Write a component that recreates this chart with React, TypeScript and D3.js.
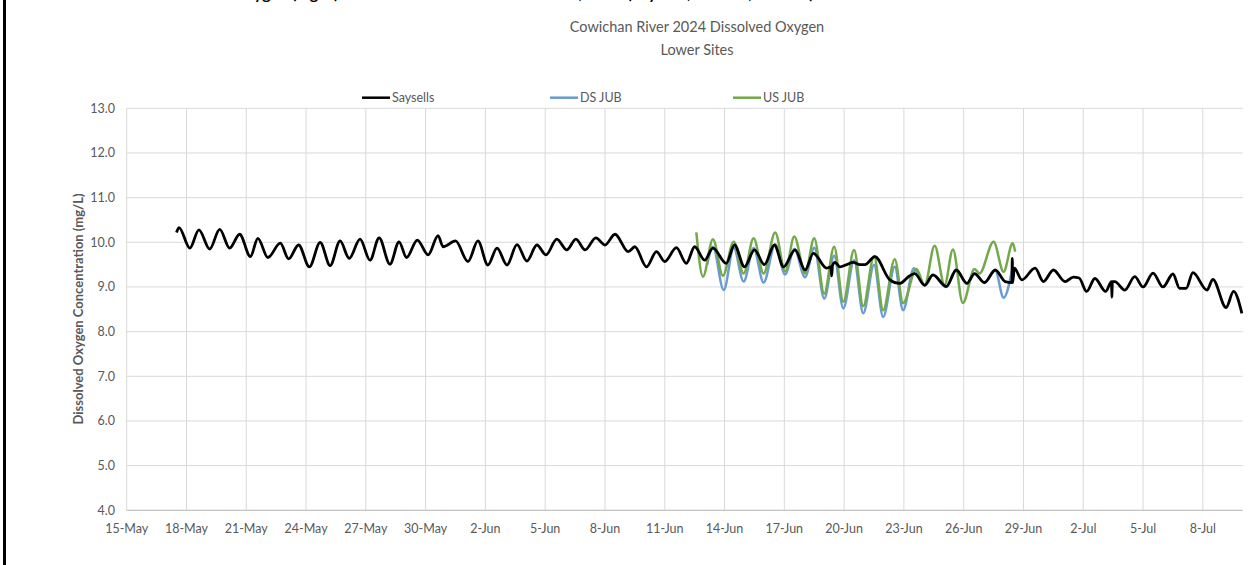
import React from "react";
import * as d3 from "d3";

// ---------- data ----------
const chartTitle = ["Cowichan River 2024 Dissolved Oxygen", "Lower Sites"];
const yAxisTitle = "Dissolved Oxygen Concentration (mg/L)";
const seriesNames = ["Saysells", "DS JUB", "US JUB"];
const seriesColors = ["#000000", "#6a9bd3", "#72a94a"];

const xTickLabels = [
  "15-May", "18-May", "21-May", "24-May", "27-May", "30-May", "2-Jun", "5-Jun",
  "8-Jun", "11-Jun", "14-Jun", "17-Jun", "20-Jun", "23-Jun", "26-Jun", "29-Jun",
  "2-Jul", "5-Jul", "8-Jul",
];
const xDomain = ["05-15 00:00", "07-10 00:00"];
const yTickValues = [4, 5, 6, 7, 8, 9, 10, 11, 12, 13];

const saysellsTimes = [
  "05-17 12:00", "05-17 15:00", "05-18 04:00", "05-18 15:00", "05-19 04:00", "05-19 16:00",
  "05-20 04:00", "05-20 16:00", "05-21 05:00", "05-21 14:00", "05-22 02:00", "05-22 17:00",
  "05-23 03:00", "05-23 15:00", "05-24 04:00", "05-24 17:00", "05-25 05:00", "05-25 17:00",
  "05-26 04:00", "05-26 17:00", "05-27 05:00", "05-27 16:00", "05-28 05:00", "05-28 16:00",
  "05-29 01:00", "05-29 14:00", "05-30 03:00", "05-30 15:00", "05-30 21:00", "05-31 12:00",
  "06-01 03:00", "06-01 15:00", "06-02 03:00", "06-02 14:00", "06-03 02:00", "06-03 14:00",
  "06-04 02:00", "06-04 14:00", "06-05 01:00", "06-05 14:00", "06-06 02:00", "06-06 13:00",
  "06-07 00:00", "06-07 13:00", "06-08 00:00", "06-08 12:00", "06-09 04:00", "06-09 12:00",
  "06-10 02:00", "06-10 14:00", "06-11 00:00", "06-11 14:00", "06-12 02:00", "06-12 12:00",
  "06-13 00:00", "06-13 10:00", "06-14 02:00", "06-14 12:00", "06-15 00:00", "06-15 12:00",
  "06-16 00:00", "06-16 12:00", "06-16 23:00", "06-17 13:00", "06-18 01:00", "06-18 11:00",
  "06-19 03:00", "06-19 08:00", "06-19 09:00", "06-19 10:00", "06-19 13:00", "06-19 19:00",
  "06-20 03:00", "06-20 11:00", "06-20 19:00", "06-21 01:00", "06-21 13:00", "06-22 07:00",
  "06-22 19:00", "06-23 07:00", "06-23 13:00", "06-24 01:00", "06-24 11:00", "06-25 03:00",
  "06-25 15:00", "06-26 04:00", "06-26 13:00", "06-27 01:00", "06-27 14:00", "06-28 02:00",
  "06-28 10:00", "06-28 10:30", "06-28 11:00", "06-28 13:00", "06-28 22:00", "06-29 14:00",
  "06-30 00:00", "06-30 12:00", "07-01 02:00", "07-01 12:00", "07-01 19:00", "07-02 04:00",
  "07-02 14:00", "07-03 03:00", "07-03 10:00", "07-03 10:30", "07-03 11:00", "07-03 14:00",
  "07-04 02:00", "07-04 14:00", "07-05 00:00", "07-05 12:00", "07-06 00:00", "07-06 12:00",
  "07-06 20:00", "07-07 04:00", "07-07 12:00", "07-08 05:00", "07-08 12:00", "07-09 04:00",
  "07-09 13:00", "07-09 23:00",
];
const saysellsDO = [
  10.22, 10.33, 9.87, 10.28, 9.85, 10.29,
  9.87, 10.18, 9.68, 10.09, 9.66, 9.98,
  9.63, 9.94, 9.45, 10.0, 9.48, 10.03,
  9.64, 10.07, 9.6, 10.1, 9.51, 10.01,
  9.66, 10.05, 9.72, 10.15, 9.9, 10.03,
  9.57, 10.03, 9.49, 9.87, 9.49, 9.95,
  9.58, 9.94, 9.72, 10.07, 9.83, 10.07,
  9.83, 10.1, 9.94, 10.18, 9.79, 9.9,
  9.45, 9.79, 9.57, 9.88, 9.53, 9.9,
  9.6, 9.87, 9.53, 9.94, 9.45, 9.83,
  9.5, 9.94, 9.45, 9.83, 9.38, 9.75,
  9.42, 9.45, 9.25, 9.48, 9.55, 9.45,
  9.5, 9.55, 9.5, 9.5, 9.68, 9.16,
  9.08, 9.25, 9.3, 9.04, 9.27, 9.01,
  9.38, 9.08, 9.3, 9.1, 9.38, 9.12,
  9.1, 9.64, 9.1, 9.42, 9.16, 9.42,
  9.12, 9.38, 9.12, 9.22, 9.2, 8.9,
  9.19, 8.9, 9.12, 8.77, 9.12, 9.12,
  8.93, 9.23, 9.0, 9.31, 9.0, 9.29,
  8.97, 8.97, 9.32, 8.93, 9.17, 8.54,
  8.9, 8.41,
];

const dsJubTimes = [
  "06-13 03:00", "06-13 10:00", "06-13 23:00", "06-14 11:00", "06-14 23:00", "06-15 11:00",
  "06-15 23:00", "06-16 13:00", "06-17 01:00", "06-17 12:00", "06-18 01:00", "06-18 12:00",
  "06-19 00:00", "06-19 12:00", "06-19 23:00", "06-20 12:00", "06-20 23:00", "06-21 12:00",
  "06-21 23:00", "06-22 13:00", "06-22 23:00", "06-23 12:00", "06-24 01:00", "06-24 11:00",
  "06-25 03:00", "06-25 15:00", "06-26 04:00", "06-26 13:00", "06-27 01:00", "06-27 14:00",
  "06-28 00:00", "06-28 11:00",
];
const dsJubDO = [
  9.5, 9.9, 8.93, 9.88, 9.12, 9.87,
  9.1, 9.95, 9.28, 9.85, 9.22, 9.88,
  8.74, 9.7, 8.52, 9.6, 8.41, 9.5,
  8.33, 9.45, 8.48, 9.42, 9.03, 9.26,
  9.0, 9.37, 9.07, 9.29, 9.09, 9.37,
  8.76, 9.45,
];

const usJubTimes = [
  "06-12 14:00", "06-12 22:00", "06-13 10:00", "06-13 22:00", "06-14 11:00", "06-14 23:00",
  "06-15 11:00", "06-15 23:00", "06-16 13:00", "06-17 01:00", "06-17 12:00", "06-18 01:00",
  "06-18 12:00", "06-19 00:00", "06-19 12:00", "06-19 23:00", "06-20 12:00", "06-20 23:00",
  "06-21 12:00", "06-21 23:00", "06-22 13:00", "06-22 23:00", "06-23 15:00", "06-24 01:00",
  "06-24 13:00", "06-25 01:00", "06-25 11:00", "06-25 23:00", "06-26 13:00", "06-26 19:00",
  "06-27 12:00", "06-28 00:00", "06-28 11:00", "06-28 14:00",
];
const usJubDO = [
  10.22, 9.23, 10.07, 9.25, 10.01, 9.3,
  10.09, 9.3, 10.22, 9.35, 10.13, 9.3,
  10.09, 8.85, 9.9, 8.67, 9.83, 8.57,
  9.69, 8.48, 9.62, 8.64, 9.4, 9.04,
  9.92, 9.04, 9.84, 8.64, 9.4, 9.3,
  10.01, 9.34, 9.98, 9.79,
];

// ---------- layout ----------
const W = 1254;
const H = 565;
const plot = { left: 126.7, right: 1242.7, top: 108.3, bottom: 510.3 };
const FONT = "Lato, 'Open Sans', sans-serif";
const TXT = "#595959";

const parseT = d3.utcParse("%Y-%m-%d %H:%M");
const parseTick = d3.utcParse("%d-%b-%Y");
const toDate = (s: string) => parseT("2024-" + s) as Date;

export default function App() {
  const x = d3
    .scaleUtc()
    .domain([toDate(xDomain[0]), toDate(xDomain[1])])
    .range([plot.left, plot.right]);
  const y = d3.scaleLinear().domain([4, 13]).range([plot.bottom, plot.top]);

  const line = d3
    .line<[Date, number]>()
    .x((d) => x(d[0]))
    .y((d) => y(d[1]))
    .curve(d3.curveMonotoneX);

  const series = [
    { times: saysellsTimes, vals: saysellsDO, w: 2.8 },
    { times: dsJubTimes, vals: dsJubDO, w: 2.5 },
    { times: usJubTimes, vals: usJubDO, w: 2.5 },
  ];
  const drawOrder = [1, 2, 0];

  const tickDates = xTickLabels.map((l) => parseTick(l + "-2024") as Date);
  const legendX = [362, 550, 733];

  return (
    <div style={{ position: "absolute", left: 0, top: 0 }}>
      <svg width={W} height={H} style={{ display: "block", background: "#fff" }}>
        <rect x={0} y={0} width={W} height={H} fill="#fff" />
        {/* cut-off caption text at the top of the page */}
        <text x={160} y={-1} fontFamily={FONT} fontWeight="bold" fontSize={16} fill="#000">
          Dissolved Oxygen (mg/L) at the lower Cowichan River sites, 2024 (Saysells, DS JUB, US JUB)
        </text>
        {/* page border */}
        <rect x={3} y={0} width={3} height={H} fill="#000" />

        {/* title */}
        {chartTitle.map((t, i) => (
          <text key={t} x={697} y={32 + i * 23} textAnchor="middle" fontFamily={FONT} fontSize={14.5} fill={TXT}>
            {t}
          </text>
        ))}

        {/* grid */}
        {yTickValues.map((v) => (
          <line key={"h" + v} x1={plot.left} x2={plot.right} y1={y(v)} y2={y(v)} stroke="#d9d9d9" strokeWidth={1} />
        ))}
        {tickDates.map((d, i) => (
          <line key={"v" + i} x1={x(d)} x2={x(d)} y1={plot.top} y2={plot.bottom} stroke="#d9d9d9" strokeWidth={1} />
        ))}
        <line x1={plot.left} x2={plot.right} y1={plot.bottom} y2={plot.bottom} stroke="#bfbfbf" strokeWidth={1} />

        {/* y tick labels */}
        {yTickValues.map((v) => (
          <text key={"yl" + v} x={115} y={y(v)} dy="0.35em" textAnchor="end" fontFamily={FONT} fontSize={12.5} fill={TXT}>
            {d3.format(".1f")(v)}
          </text>
        ))}
        {/* x tick labels */}
        {tickDates.map((d, i) => (
          <text key={"xl" + i} x={x(d)} y={528.5} dy="0.35em" textAnchor="middle" fontFamily={FONT} fontSize={12.5} fill={TXT}>
            {xTickLabels[i]}
          </text>
        ))}

        {/* y axis title */}
        <text
          transform={`translate(78,${309}) rotate(-90)`}
          textAnchor="middle"
          dy="0.35em"
          fontFamily={FONT}
          fontWeight="bold"
          fontSize={13}
          fill={TXT}
        >
          {yAxisTitle}
        </text>

        {/* legend */}
        {seriesNames.map((n, i) => (
          <g key={n}>
            <line x1={legendX[i]} x2={legendX[i] + 28} y1={97.7} y2={97.7} stroke={seriesColors[i]} strokeWidth={2.5} />
            <text x={legendX[i] + 30} y={97.7} dy="0.35em" fontFamily={FONT} fontSize={12.5} fill={TXT}>
              {n}
            </text>
          </g>
        ))}

        {/* series */}
        {drawOrder.map((i) => {
          const s = series[i];
          return (
            <path
              key={"s" + i}
              d={line(s.times.map((t, j) => [toDate(t), s.vals[j]] as [Date, number])) || ""}
              fill="none"
              stroke={seriesColors[i]}
              strokeWidth={s.w}
              strokeLinejoin="round"
            />
          );
        })}
      </svg>
    </div>
  );
}
